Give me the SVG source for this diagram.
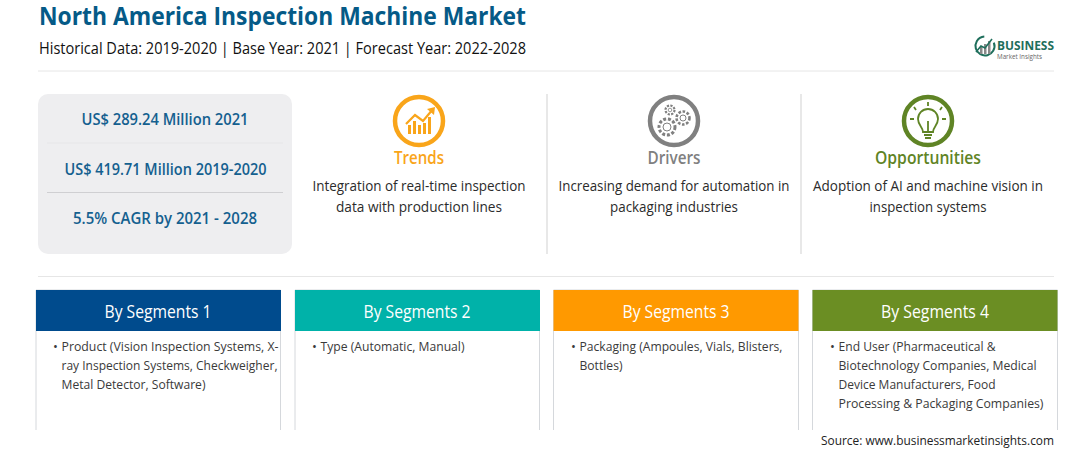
<svg xmlns="http://www.w3.org/2000/svg" width="1092" height="449" viewBox="0 0 1092 449">
<style>
text{font-family:"Open Sans","Noto Sans","Liberation Sans",sans-serif}
.kpi{font-size:15.500px;font-weight:600;fill:#14608f;text-anchor:middle}
.body{font-size:14.5px;fill:#2b2b2b;text-anchor:middle}
.seg{font-size:13px;fill:#3a3a3a}
.hd{font-size:18px;fill:#fff;text-anchor:middle}
.cap{font-size:17.5px;font-weight:600;text-anchor:middle}
.box{fill:#fff;stroke:#d5d8dc;stroke-width:1}
.rule{stroke:#e6e6e6;stroke-width:1}
.vr{stroke:#d9d9d9;stroke-width:1.2}
</style>
<rect width="1092" height="449" fill="#fff"/>
<g id="header">
<text x="39" y="25" font-size="24.500" font-weight="700" fill="#055a87" textLength="487" lengthAdjust="spacingAndGlyphs">North America Inspection Machine Market</text>
<text x="39" y="54" font-size="15.500" font-weight="500" fill="#111" textLength="487" lengthAdjust="spacingAndGlyphs">Historical Data: 2019-2020 | Base Year: 2021 | Forecast Year: 2022-2028</text>
<line class="rule" x1="38" y1="71" x2="1054" y2="71"/>
<line class="rule" x1="38" y1="276.500" x2="1054" y2="276.500"/>
</g>
<g id="logo">
<circle cx="985" cy="46" r="9.500" fill="none" stroke="#1f6f5c" stroke-width="2" stroke-dasharray="24 12" transform="rotate(120 985 46)"/>
<rect x="980" y="47" width="2.500" height="7" fill="#888"/><rect x="984" y="44" width="2.500" height="10" fill="#888"/><rect x="988" y="41" width="2.500" height="13" fill="#888"/>
<path d="M976 52l5-6 4 2 7-9" fill="none" stroke="#1f6f5c" stroke-width="1.600"/>
<text x="997" y="49.500" font-size="12.500" font-weight="700" fill="#1f6f5c" textLength="57" lengthAdjust="spacingAndGlyphs">BUSINESS</text>
<text x="997" y="59" font-size="6.500" fill="#666" textLength="45" lengthAdjust="spacingAndGlyphs">Market Insights</text>
</g>
<g id="kpi">
<rect x="38" y="94" width="254" height="160" rx="10" fill="#eeeef0"/>
<line x1="47" y1="143" x2="283" y2="143" stroke="#e6e6e8"/>
<line x1="47" y1="192.500" x2="283" y2="192.500" stroke="#cfcfd2"/>
<text class="kpi" x="165" y="125" textLength="167" lengthAdjust="spacingAndGlyphs">US$ 289.24 Million 2021</text>
<text class="kpi" x="165.500" y="175" textLength="202" lengthAdjust="spacingAndGlyphs">US$ 419.71 Million 2019-2020</text>
<text class="kpi" x="165" y="224" textLength="184" lengthAdjust="spacingAndGlyphs">5.5% CAGR by 2021 - 2028</text>
</g>
<g id="trends">
<circle cx="419" cy="121" r="24" fill="none" stroke="#f9a51a" stroke-width="4.500"/>
<g fill="#f9a51a"><rect x="408" y="125" width="3" height="9"/><rect x="413" y="121" width="3" height="13"/><rect x="418" y="125" width="3" height="9"/><rect x="423" y="123" width="3" height="11"/><rect x="428" y="117" width="3" height="17"/></g>
<path d="M406 124l9-9 8 6 10-12" fill="none" stroke="#f9a51a" stroke-width="2.200"/>
<path d="M427 109l8-2-1 8z" fill="#f9a51a"/>
<text class="cap" x="419" y="164" fill="#f9a51a" textLength="50" lengthAdjust="spacingAndGlyphs">Trends</text>
<text class="body" x="419" y="191" textLength="213" lengthAdjust="spacingAndGlyphs">Integration of real-time inspection</text>
<text class="body" x="419" y="212" textLength="166" lengthAdjust="spacingAndGlyphs">data with production lines</text>
</g>
<line class="vr" x1="547" y1="94" x2="547" y2="254"/>
<line class="vr" x1="801" y1="94" x2="801" y2="254"/>
<g id="drivers">
<circle cx="674" cy="121" r="24" fill="none" stroke="#808080" stroke-width="4.500"/>
<g fill="none" stroke="#808080">
<circle cx="667" cy="127" r="8" stroke-width="3" stroke-dasharray="3 1.800"/><circle cx="667" cy="127" r="4" stroke-width="1"/>
<circle cx="683" cy="118" r="6.500" stroke-width="2.600" stroke-dasharray="2.600 1.600"/><circle cx="683" cy="118" r="3" stroke-width="1"/>
<circle cx="670" cy="110" r="4.500" stroke-width="2.200" stroke-dasharray="2.200 1.300"/><circle cx="670" cy="110" r="1.800" stroke-width="0.800"/>
</g>
<text class="cap" x="674" y="164" fill="#808080" textLength="53" lengthAdjust="spacingAndGlyphs">Drivers</text>
<text class="body" x="674" y="191" textLength="231" lengthAdjust="spacingAndGlyphs">Increasing demand for automation in</text>
<text class="body" x="674" y="212" textLength="128" lengthAdjust="spacingAndGlyphs">packaging industries</text>
</g>
<g id="opportunities">
<circle cx="928" cy="121" r="24" fill="none" stroke="#5f8425" stroke-width="4.500"/>
<path d="M923 132c0-5-5-7-5-13a10 10 0 0 1 20 0c0 6-5 8-5 13zM924 135h8M925 138h6M928 132v-11" fill="none" stroke="#5f8425" stroke-width="1.800"/>
<path d="M928 102v4M914 107l2 3M942 107l-2 3M910 119h4M942 119h4" stroke="#5f8425" stroke-width="1.800" fill="none"/>
<text class="cap" x="928" y="164" fill="#5f8425" textLength="106" lengthAdjust="spacingAndGlyphs">Opportunities</text>
<text class="body" x="928" y="191" textLength="230" lengthAdjust="spacingAndGlyphs">Adoption of AI and machine vision in</text>
<text class="body" x="928" y="212" textLength="117" lengthAdjust="spacingAndGlyphs">inspection systems</text>
</g>
<g id="segment1">
<path class="box" d="M36 430V290H280.500V430"/>
<rect x="36" y="290" width="245" height="41" fill="#004b8d"/>
<text class="hd" x="158" y="318" textLength="107" lengthAdjust="spacingAndGlyphs">By Segments 1</text>
<text class="seg" x="53" y="351">•</text>
<text class="seg" x="61.500" y="351" textLength="217" lengthAdjust="spacingAndGlyphs">Product (Vision Inspection Systems, X-</text>
<text class="seg" x="61.500" y="370" textLength="216" lengthAdjust="spacingAndGlyphs">ray Inspection Systems, Checkweigher,</text>
<text class="seg" x="61.500" y="389" textLength="144" lengthAdjust="spacingAndGlyphs">Metal Detector, Software)</text>
</g>
<g id="segment2">
<path class="box" d="M295 430V290H539.500V430"/>
<rect x="295" y="290" width="245" height="41" fill="#00b2a9"/>
<text class="hd" x="417" y="318" textLength="107" lengthAdjust="spacingAndGlyphs">By Segments 2</text>
<text class="seg" x="312" y="351">•</text>
<text class="seg" x="320.500" y="351" textLength="144" lengthAdjust="spacingAndGlyphs">Type (Automatic, Manual)</text>
</g>
<g id="segment3">
<path class="box" d="M553.500 430V290H798.500V430"/>
<rect x="553.500" y="290" width="245" height="41" fill="#ff9900"/>
<text class="hd" x="676" y="318" textLength="107" lengthAdjust="spacingAndGlyphs">By Segments 3</text>
<text class="seg" x="571" y="351">•</text>
<text class="seg" x="579.500" y="351" textLength="203" lengthAdjust="spacingAndGlyphs">Packaging (Ampoules, Vials, Blisters,</text>
<text class="seg" x="579.500" y="370" textLength="43" lengthAdjust="spacingAndGlyphs">Bottles)</text>
</g>
<g id="segment4">
<path class="box" d="M812.500 430V290H1057.500V430"/>
<rect x="812.500" y="290" width="245" height="41" fill="#6b8e23"/>
<text class="hd" x="935" y="318" textLength="108" lengthAdjust="spacingAndGlyphs">By Segments 4</text>
<text class="seg" x="830" y="351">•</text>
<text class="seg" x="838.500" y="351" textLength="157" lengthAdjust="spacingAndGlyphs">End User (Pharmaceutical &amp;</text>
<text class="seg" x="838.500" y="370" textLength="198" lengthAdjust="spacingAndGlyphs">Biotechnology Companies, Medical</text>
<text class="seg" x="838.500" y="389" textLength="157" lengthAdjust="spacingAndGlyphs">Device Manufacturers, Food</text>
<text class="seg" x="838.500" y="408" textLength="205" lengthAdjust="spacingAndGlyphs">Processing &amp; Packaging Companies)</text>
</g>
<text id="source" x="821" y="445" font-size="13.500" fill="#222" textLength="233" lengthAdjust="spacingAndGlyphs">Source: www.businessmarketinsights.com</text>
</svg>
